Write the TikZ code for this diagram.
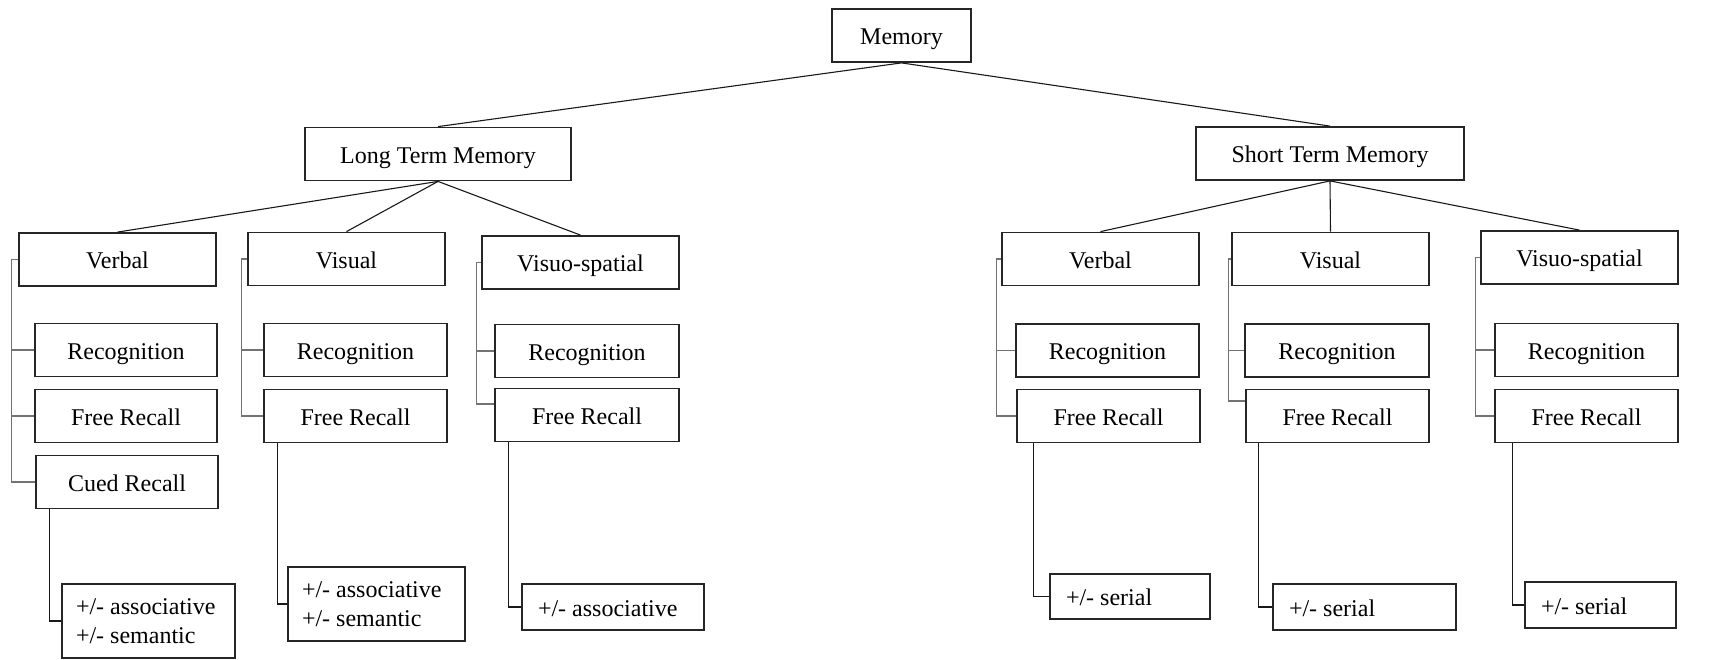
\documentclass[tikz,border=0pt]{standalone}
\usepackage{fontspec}
\setmainfont{Liberation Serif}
\usepackage{tikz}

\begin{document}
\begin{tikzpicture}[x=0.5pt, y=-0.5pt,
    frame/.style={draw=black!85, line width=0.9pt, inner sep=0pt, minimum height=26.5pt, font=\fontsize{12}{14.5}\selectfont},
    box/.style={frame, text height=11pt, text depth=2pt},
    pm/.style={frame, align=flush left, inner xsep=8pt},
    link/.style={black!90, line width=0.55pt},
    bracket/.style={black!55, line width=0.6pt}]
    \useasboundingbox (0,0) rectangle (1718,659);

    % top of the tree
    \node[box, minimum width=69.5pt] (mem) at (901.5,35.5) {Memory};
    \node[box, minimum width=133pt] (ltm) at (438,154) {Long Term Memory};
    \node[box, minimum width=134pt] (stm) at (1330,153.5) {Short Term Memory};

    % long term branch
    \node[box, minimum width=98.5pt] (lv) at (117.5,259.5) {Verbal};
    \node[box, minimum width=91pt] (lvrec) at (126,350) {Recognition};
    \node[box, minimum width=91pt] (lvfr) at (126,416) {Free Recall};
    \node[box, minimum width=91pt] (lvcr) at (127,482) {Cued Recall};
    \node[pm, inner xsep=7pt, text width=72.5pt, minimum height=37pt] (lvpm) at (148.5,621) {+/- associative\\+/- semantic};

    \node[box, minimum width=98.5pt] (li) at (346.5,259) {Visual};
    \node[box, minimum width=91.5pt] (lirec) at (355.5,350) {Recognition};
    \node[box, minimum width=91.5pt] (lifr) at (355.5,416) {Free Recall};
    \node[pm, inner xsep=7pt, text width=74.5pt, minimum height=37pt] (lipm) at (376.5,604) {+/- associative\\+/- semantic};

    \node[box, minimum width=98.5pt] (ls) at (580.5,262.5) {Visuo-spatial};
    \node[box, minimum width=92pt] (lsrec) at (587,351) {Recognition};
    \node[box, minimum width=92pt] (lsfr) at (587,415) {Free Recall};
    \node[box, pm, text width=75pt, minimum height=23pt] (lspm) at (613,607) {+/- associative};

    % short term branch
    \node[box, minimum width=98.5pt] (sv) at (1100.5,259) {Verbal};
    \node[box, minimum width=91.5pt] (svrec) at (1107.5,350.5) {Recognition};
    \node[box, minimum width=91.5pt] (svfr) at (1108.5,416) {Free Recall};
    \node[box, pm, text width=64pt, minimum height=22.5pt] (svpm) at (1130,596.5) {+/- serial};

    \node[box, minimum width=98.5pt] (si) at (1330.5,259) {Visual};
    \node[box, minimum width=92pt] (sirec) at (1337,350.5) {Recognition};
    \node[box, minimum width=91.5pt] (sifr) at (1337.5,416) {Free Recall};
    \node[box, pm, text width=75.5pt, minimum height=23pt] (sipm) at (1364.5,607) {+/- serial};

    \node[box, minimum width=98.5pt] (ss) at (1579.5,257.5) {Visuo-spatial};
    \node[box, minimum width=91.5pt] (ssrec) at (1586.5,350) {Recognition};
    \node[box, minimum width=91.5pt] (ssfr) at (1586.5,416) {Free Recall};
    \node[box, pm, text width=59.5pt, minimum height=23pt] (sspm) at (1600.5,605) {+/- serial};

    % tree links
    \foreach \p/\c in {mem/ltm, mem/stm, ltm/lv, ltm/li, ltm/ls, stm/sv, stm/si, stm/ss}
        \draw[link] (\p.south) -- (\c.north);

    % side brackets
    \foreach \m/\d/\last/\up in {lv/7/lvcr/0, li/6/lifr/0, ls/4.5/lsfr/5.5, sv/4.5/svfr/0, si/3/sifr/7.5, ss/5/ssfr/0}
        \draw[bracket] (\m.west) -- ++(-\d,0) |- ([yshift=\up pt]\last.west);
    \foreach \n/\len in {lvrec/23, lvfr/23, lirec/22, lsrec/17.5, svrec/18.5, sirec/16, ssrec/19}
        \draw[bracket] (\n.west) -- ++(-\len,0);

    % down to the +/- boxes
    \foreach \f/\p/\d in {lvcr/lvpm/14, lifr/lipm/14, lsfr/lspm/14, svfr/svpm/17, sifr/sipm/13, ssfr/sspm/18}
        \draw[link] (\f.south west) ++(\d,0) |- (\p.west);
\end{tikzpicture}
\end{document}
